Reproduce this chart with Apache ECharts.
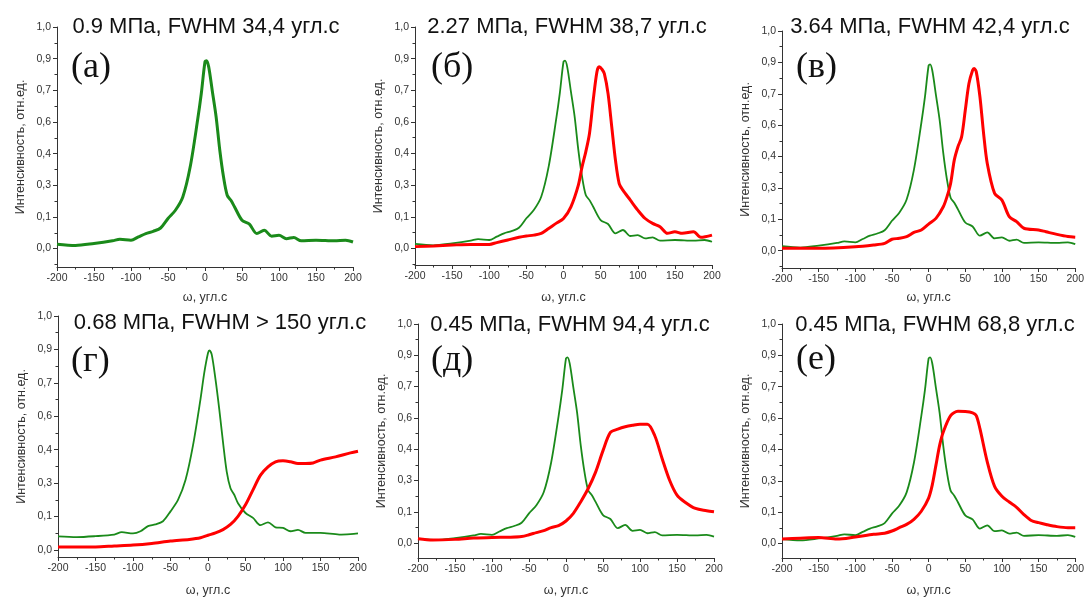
<!DOCTYPE html>
<html>
<head>
<meta charset="utf-8">
<script src="https://cdn.jsdelivr.net/npm/echarts@6/dist/echarts.min.js"></script>
<style>
  html, body { margin: 0; padding: 0; background: #fff; }
  #chart { width: 1087px; height: 598px; }
</style>
</head>
<body>
<div id="chart"></div>
<script>
// green reference curve (panels а, б, в, д, е)
const refX = [-200, -175, -150, -125, -115, -100, -90, -80, -70, -60, -50, -40, -30, -20, -10, -5, 0, 2, 5, 10, 15, 20, 25, 30, 35, 40, 50, 60, 70, 80, 90, 100, 110, 120, 130, 150, 175, 190, 200];
const refY = [0.020, 0.014, 0.023, 0.035, 0.042, 0.038, 0.053, 0.068, 0.078, 0.093, 0.136, 0.173, 0.233, 0.369, 0.580, 0.700, 0.843, 0.848, 0.820, 0.708, 0.595, 0.444, 0.324, 0.241, 0.218, 0.188, 0.128, 0.110, 0.068, 0.083, 0.056, 0.060, 0.045, 0.050, 0.035, 0.038, 0.035, 0.038, 0.030];

// green reference curve in panel г
const refGY = [0.058, 0.055, 0.059, 0.066, 0.076, 0.071, 0.080, 0.102, 0.109, 0.123, 0.165, 0.214, 0.299, 0.447, 0.645, 0.757, 0.842, 0.853, 0.835, 0.729, 0.602, 0.461, 0.334, 0.264, 0.236, 0.200, 0.158, 0.137, 0.106, 0.118, 0.097, 0.094, 0.080, 0.086, 0.073, 0.073, 0.066, 0.068, 0.071];

// red curves
const redBX = [-200, -175, -150, -125, -100, -90, -75, -60, -50, -40, -30, -20, -10, 0, 10, 20, 25, 30, 35, 40, 45, 48, 52, 55, 60, 65, 70, 75, 80, 90, 100, 110, 120, 130, 140, 150, 160, 175, 185, 200];
const redBY = [0.008, 0.011, 0.015, 0.018, 0.018, 0.026, 0.038, 0.050, 0.056, 0.060, 0.068, 0.090, 0.113, 0.135, 0.188, 0.286, 0.368, 0.436, 0.519, 0.669, 0.797, 0.820, 0.808, 0.789, 0.699, 0.549, 0.398, 0.293, 0.263, 0.218, 0.173, 0.135, 0.113, 0.098, 0.068, 0.075, 0.068, 0.075, 0.050, 0.060];

const redVX = [-200, -150, -100, -75, -60, -50, -40, -30, -20, -10, 0, 10, 20, 25, 30, 35, 40, 45, 50, 55, 60, 62, 65, 70, 75, 80, 90, 100, 110, 120, 130, 150, 160, 175, 190, 200];
const redVY = [0.011, 0.011, 0.018, 0.026, 0.033, 0.052, 0.056, 0.064, 0.083, 0.094, 0.121, 0.147, 0.200, 0.245, 0.306, 0.412, 0.473, 0.518, 0.639, 0.761, 0.821, 0.829, 0.814, 0.700, 0.533, 0.397, 0.261, 0.230, 0.155, 0.132, 0.102, 0.094, 0.086, 0.074, 0.064, 0.061];

const redGX = [-200, -150, -125, -100, -75, -50, -25, -10, 0, 10, 20, 30, 40, 50, 60, 70, 80, 90, 100, 110, 120, 130, 140, 150, 170, 190, 200];
const redGY = [0.013, 0.013, 0.017, 0.021, 0.028, 0.038, 0.045, 0.052, 0.063, 0.073, 0.087, 0.109, 0.144, 0.193, 0.257, 0.320, 0.355, 0.377, 0.381, 0.377, 0.370, 0.370, 0.372, 0.384, 0.398, 0.415, 0.422];

const redDX = [-200, -180, -150, -125, -100, -75, -60, -50, -40, -30, -20, -10, 0, 10, 20, 30, 40, 50, 60, 70, 80, 90, 100, 110, 120, 130, 140, 150, 160, 175, 190, 200];
const redDY = [0.020, 0.014, 0.017, 0.023, 0.026, 0.027, 0.030, 0.038, 0.048, 0.057, 0.071, 0.080, 0.101, 0.136, 0.189, 0.249, 0.324, 0.422, 0.505, 0.520, 0.531, 0.538, 0.543, 0.543, 0.490, 0.385, 0.287, 0.219, 0.189, 0.158, 0.148, 0.143];

const redEX = [-200, -175, -150, -125, -100, -75, -60, -50, -40, -30, -20, -10, 0, 5, 10, 15, 20, 30, 40, 50, 60, 65, 70, 80, 90, 100, 110, 120, 130, 140, 150, 160, 175, 190, 200];
const redEY = [0.020, 0.024, 0.027, 0.020, 0.030, 0.042, 0.047, 0.057, 0.072, 0.087, 0.110, 0.147, 0.207, 0.267, 0.357, 0.447, 0.508, 0.583, 0.602, 0.601, 0.595, 0.583, 0.523, 0.372, 0.260, 0.215, 0.189, 0.165, 0.132, 0.105, 0.095, 0.087, 0.077, 0.072, 0.072];

const titles = ['0.9 МПа, FWHM 34,4 угл.с', '2.27 МПа, FWHM 38,7 угл.с', '3.64 МПа, FWHM 42,4 угл.с',
                '0.68 МПа, FWHM > 150 угл.с', '0.45 МПа, FWHM 94,4 угл.с', '0.45 МПа, FWHM 68,8 угл.с'];
const letters = ['(a)', '(б)', '(в)', '(г)', '(д)', '(е)'];
const yTicks = [0, 1, 2, 3, 4, 5, 6, 7].map(k => k / 7);

const pairs = (xs, ys) => xs.map((x, i) => [x, ys[i]]);

// panel layout in pixels: grid rect, y minimum, title / letter positions
const panels = [
  { left: 57, top: 27, width: 296, height: 240, ymin: -0.083, tx: 206, ty: 27, lx: 71, ly: 68, gap: 24,
    series: [{ data: pairs(refX, refY), color: '#1a8a1a', width: 3 }] },
  { left: 415, top: 27, width: 297, height: 238, ymin: -0.075, tx: 567, ty: 27, lx: 431, ly: 68, gap: 26,
    series: [{ data: pairs(refX, refY), color: '#1a8a1a', width: 1.8 }, { data: pairs(redBX, redBY), color: '#ff0000', width: 3 }] },
  { left: 782, top: 31, width: 296, height: 237, ymin: -0.079, tx: 930, ty: 27, lx: 796, ly: 68, gap: 23,
    series: [{ data: pairs(refX, refY), color: '#1a8a1a', width: 1.8 }, { data: pairs(redVX, redVY), color: '#ff0000', width: 3 }] },
  { left: 58, top: 316, width: 300, height: 243, ymin: -0.030, tx: 220, ty: 323, lx: 71, ly: 362, gap: 27,
    series: [{ data: pairs(refX, refGY), color: '#1a8a1a', width: 1.8 }, { data: pairs(redGX, redGY), color: '#ff0000', width: 3 }] },
  { left: 418, top: 324, width: 296, height: 236, ymin: -0.068, tx: 570, ty: 325, lx: 431, ly: 361, gap: 26,
    series: [{ data: pairs(refX, refY), color: '#1a8a1a', width: 1.8 }, { data: pairs(redDX, redDY), color: '#ff0000', width: 3 }] },
  { left: 782, top: 324, width: 296, height: 237, ymin: -0.066, tx: 935, ty: 325, lx: 796, ly: 360, gap: 26,
    series: [{ data: pairs(refX, refY), color: '#1a8a1a', width: 1.8 }, { data: pairs(redEX, redEY), color: '#ff0000', width: 3 }] }
];

const axisColor = '#333';
const sans = 'Liberation Sans, Arial, sans-serif';
const labelFont = { fontFamily: sans, fontSize: 10.5, color: '#333' };

const grid = [], xAxis = [], yAxis = [], series = [], graphic = [];

panels.forEach((p, i) => {
  grid.push({ left: p.left, top: p.top, width: p.width, height: p.height });

  xAxis.push({
    type: 'value', gridIndex: i, min: -200, max: 200, interval: 50,
    name: 'ω, угл.с', nameLocation: 'middle', nameGap: p.gap,
    nameTextStyle: { fontFamily: sans, fontSize: 12.5, color: '#333' },
    axisLine: { onZero: false, lineStyle: { color: axisColor, width: 1 } },
    axisTick: { length: 4, lineStyle: { color: axisColor } },
    minorTick: { show: true, splitNumber: 2, length: 2.5, lineStyle: { color: axisColor } },
    axisLabel: Object.assign({ margin: 6 }, labelFont),
    splitLine: { show: false }
  });

  // main y axis: labels at k/7, printed with one decimal
  yAxis.push({
    type: 'value', gridIndex: i, position: 'left', min: p.ymin, max: 1,
    name: 'Интенсивность, отн.ед.', nameLocation: 'middle', nameGap: 30, nameRotate: 90,
    nameTextStyle: { fontFamily: sans, fontSize: 12.5, color: '#333' },
    axisLine: { onZero: false, lineStyle: { color: axisColor, width: 1 } },
    axisTick: { length: 4, customValues: yTicks, lineStyle: { color: axisColor } },
    axisLabel: Object.assign({ margin: 6, customValues: yTicks,
      formatter: v => v.toFixed(1).replace('.', ',') }, labelFont),
    splitLine: { show: false }
  });
  // minor ticks for the y axis
  yAxis.push({
    type: 'value', gridIndex: i, position: 'left', min: p.ymin, max: 1,
    axisLine: { show: false, onZero: false },
    axisTick: { length: 2.5, lineStyle: { color: axisColor },
      customValues: [-1, 0, 1, 2, 3, 4, 5, 6].map(k => (k + 0.5) / 7).filter(v => v > p.ymin) },
    axisLabel: { show: false },
    splitLine: { show: false }
  });

  p.series.forEach(s => {
    series.push({
      type: 'line', xAxisIndex: i, yAxisIndex: 2 * i, data: s.data,
      showSymbol: false, smooth: 0.3, silent: true,
      lineStyle: { color: s.color, width: s.width }
    });
  });

  graphic.push({
    type: 'text', x: p.tx, y: p.ty,
    style: { text: titles[i], fill: '#111', fontSize: 22, fontFamily: sans,
      textAlign: 'center', textVerticalAlign: 'middle' }
  });
  graphic.push({
    type: 'text', x: p.lx, y: p.ly,
    style: { text: letters[i], fill: '#111', fontSize: 36, fontFamily: 'Liberation Serif, Times New Roman, serif',
      textAlign: 'left', textVerticalAlign: 'middle' }
  });
});

const chart = echarts.init(document.getElementById('chart'), null, { renderer: 'canvas' });
chart.setOption({
  backgroundColor: '#fff',
  animation: false,
  grid, xAxis, yAxis, series, graphic
});
</script>
</body>
</html>
